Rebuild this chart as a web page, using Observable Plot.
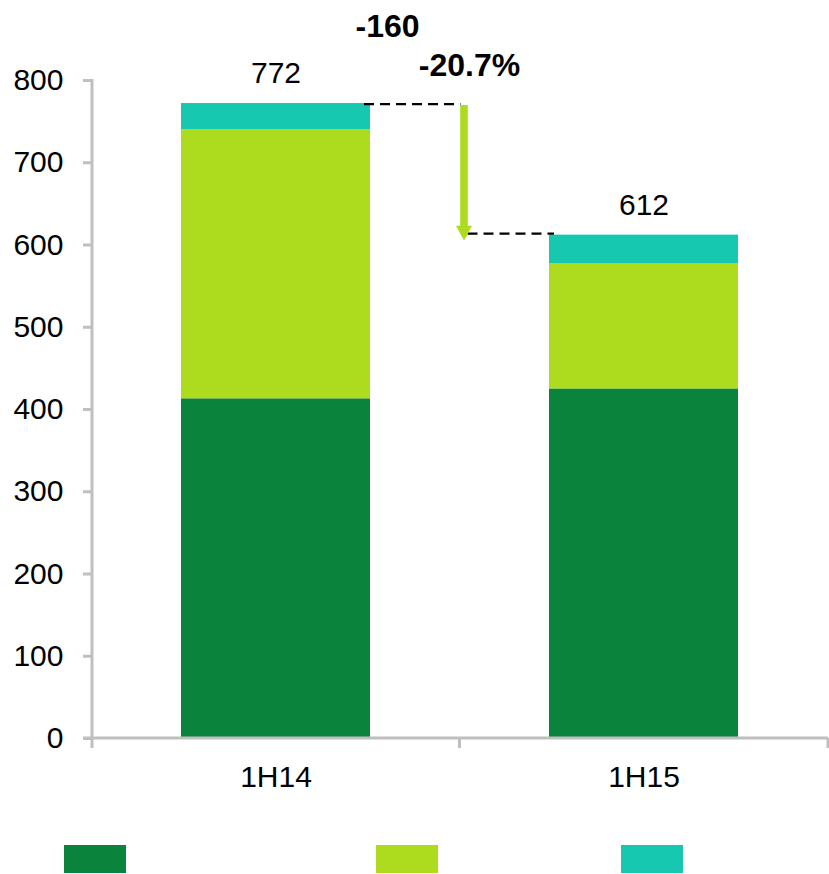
<!DOCTYPE html>
<html><head><meta charset="utf-8">
<script src="https://cdn.jsdelivr.net/npm/d3@7"></script>
<script src="https://cdn.jsdelivr.net/npm/@observablehq/plot@0.6"></script>
<style>
body{margin:0;background:#fff;font-family:"Liberation Sans",Arial,sans-serif;}
#legend{position:relative;width:829px;height:74px;}
.sw{position:absolute;top:45px;width:62px;height:28px;}
</style></head><body><div id="chart"></div><div id="legend"></div>
<script>
const periods = ["1H14", "1H15"];
const series = ["Series 1", "Series 2", "Series 3"];
const series1 = [413, 425];
const series2 = [327, 152];
const series3 = [32, 35];
const totals = [772, 612];
const colors = ["#0a843d", "#addc1f", "#17c8b0"];
const yTicks = [0, 100, 200, 300, 400, 500, 600, 700, 800];
const changeAbs = "-160";
const changePct = "-20.7%";
const legendLeft = [64, 376, 621];

const data = periods.flatMap((p, i) => [
  {period: p, series: series[0], value: series1[i]},
  {period: p, series: series[1], value: series2[i]},
  {period: p, series: series[2], value: series3[i]}
]);
const totalData = periods.map((p, i) => ({period: p, total: totals[i]}));

const plot = Plot.plot({
  width: 829, height: 800,
  marginTop: 80, marginBottom: 62, marginLeft: 92, marginRight: 1,
  style: {fontFamily: "'Liberation Sans', Arial, sans-serif", fontSize: "30px", color: "#000", background: "#fff"},
  x: {domain: periods, paddingInner: 0.486, paddingOuter: 0.243, label: null},
  y: {domain: [0, 800], label: null},
  color: {domain: series, range: colors},
  marks: [
    Plot.barY(data, {x: "period", y: "value", fill: "series"}),
    Plot.axisY({ticks: yTicks, tickSize: 9, tickPadding: 20, stroke: "#bfbfbf", strokeWidth: 3, fill: "#000", fontSize: 30, label: null}),
    Plot.axisX({tickSize: 0, tickPadding: 27, fill: "#000", fontSize: 30, label: null}),
    Plot.text(totalData, {x: "period", y: "total", text: d => String(d.total), dy: -30, fill: "#000", fontSize: 30})
  ]
});
document.getElementById("chart").appendChild(plot);

const xs = plot.scale("x"), ys = plot.scale("y");
const svg = d3.select(plot);
const [xr0, xr1] = xs.range;
const bw = xs.bandwidth;
const step = xs.step ?? (xr1 - xr0) / periods.length;
const y0 = ys.apply(0);
const bounds = [xr0, ...periods.slice(1).map(p => xs.apply(p) - (step - bw) / 2), xr1];
const g = svg.append("g");
// axis lines
g.append("line").attr("x1", xr0).attr("x2", xr0).attr("y1", ys.apply(800) - 1).attr("y2", y0)
  .attr("stroke", "#bfbfbf").attr("stroke-width", 3);
g.append("line").attr("x1", xr0 - 9).attr("x2", xr1).attr("y1", y0).attr("y2", y0)
  .attr("stroke", "#bfbfbf").attr("stroke-width", 3);
bounds.forEach(b => g.append("line").attr("x1", b).attr("x2", b).attr("y1", y0).attr("y2", y0 + 10)
  .attr("stroke", "#bfbfbf").attr("stroke-width", 3));

// change annotation
const mid = bounds[1];
const yA = ys.apply(totals[0]), yB = ys.apply(totals[1]);
const barRight = xs.apply(periods[0]) + bw;
const barLeft2 = xs.apply(periods[1]);
g.append("line").attr("x1", barRight - 6).attr("x2", mid + 1).attr("y1", yA + 1).attr("y2", yA + 1)
  .attr("stroke", "#000").attr("stroke-width", 2.2).attr("stroke-dasharray", "10,6");
g.append("line").attr("x1", mid + 8).attr("x2", barLeft2 + 5).attr("y1", yB - 1).attr("y2", yB - 1)
  .attr("stroke", "#000").attr("stroke-width", 2.2).attr("stroke-dasharray", "10,6");
const ax = mid + 4.5;
const tip = yB + 6;
g.append("rect").attr("x", ax - 3.8).attr("width", 7.6).attr("y", yA + 2).attr("height", tip - 14 - (yA + 2))
  .attr("fill", colors[1]);
g.append("path").attr("d", `M${ax - 8},${tip - 15}L${ax + 8},${tip - 15}L${ax},${tip}Z`).attr("fill", colors[1]);
const yTop = ys.apply(800);
g.append("text").attr("x", mid - 72).attr("y", yTop - 43).attr("text-anchor", "middle")
  .attr("font-weight", "bold").attr("font-size", 32).attr("fill", "#000").text(changeAbs);
g.append("text").attr("x", mid + 10).attr("y", yTop - 4).attr("text-anchor", "middle")
  .attr("font-weight", "bold").attr("font-size", 32).attr("fill", "#000").text(changePct);

// legend (swatches only, as in the reference)
const leg = document.getElementById("legend");
series.forEach((s, i) => {
  const d = document.createElement("div");
  d.className = "sw";
  d.style.left = legendLeft[i] + "px";
  d.style.background = colors[i];
  d.setAttribute("aria-label", s);
  leg.appendChild(d);
});
</script></body></html>
